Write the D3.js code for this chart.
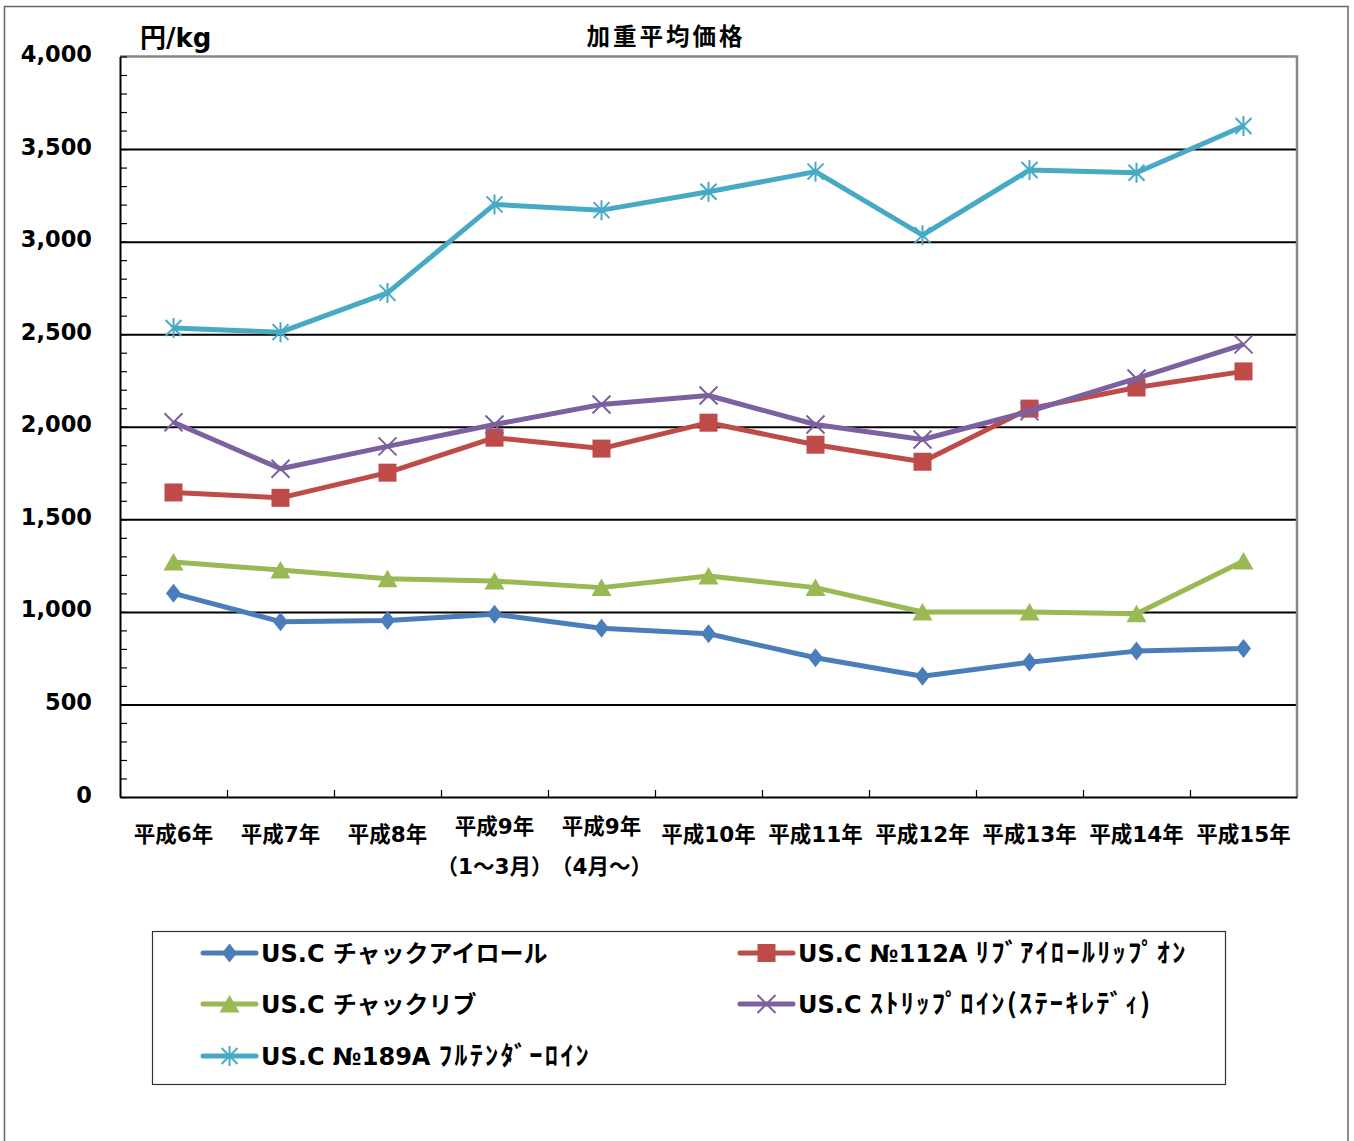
<!DOCTYPE html>
<html><head><meta charset="utf-8">
<script src="https://cdn.jsdelivr.net/npm/d3@7"></script>
<style>body{margin:0;background:#fff;} svg{display:block;}</style>
</head><body>
<script>
const categories = ["平成6年","平成7年","平成8年","平成9年","平成9年","平成10年","平成11年","平成12年","平成13年","平成14年","平成15年"];
const subLabels = ["","","","（1～3月）","（4月～）","","","","","",""];
const yTickValues = [0,500,1000,1500,2000,2500,3000,3500,4000];
const seriesPrefix = ["US.C チャックアイロール","US.C №112A ","US.C チャックリブ","US.C ","US.C №189A "];
const seriesKana   = ["","ﾘﾌﾞｱｲﾛｰﾙﾘｯﾌﾟｵﾝ","","ｽﾄﾘｯﾌﾟﾛｲﾝ(ｽﾃｰｷﾚﾃﾞｨ)","ﾌﾙﾃﾝﾀﾞｰﾛｲﾝ"];
const chuckEyeRoll = [1100, 947, 954, 987, 911, 882, 752, 652, 728, 788, 802];
const ribEyeRoll   = [1645, 1616, 1752, 1941, 1882, 2022, 1903, 1811, 2098, 2212, 2299];
const chuckRib     = [1270, 1226, 1179, 1167, 1131, 1194, 1131, 999, 999, 990, 1275];
const stripLoin    = [2024, 1773, 1894, 2012, 2120, 2169, 2012, 1931, 2083, 2261, 2445];
const fullTender   = [2533, 2511, 2723, 3201, 3170, 3269, 3378, 3035, 3387, 3372, 3625];
const seriesValues = [chuckEyeRoll, ribEyeRoll, chuckRib, stripLoin, fullTender];
const seriesColors = ["#4A7EBB","#BE4B48","#98B954","#7D60A0","#46AAC5"];
const seriesMarkers = ["diamond","square","triangle","cross","asterisk"];

const W = 1354, H = 1141;
const L = 120, R = 1297, T = 56.5, B = 797;
const svg = d3.select("body").append("svg").attr("width", W).attr("height", H);
const latin = "'DejaVu Sans','Noto Sans CJK JP',sans-serif";

// outer frame
svg.append("rect").attr("x",4.5).attr("y",6.5).attr("width",1343.5).attr("height",1145)
  .attr("fill","none").attr("stroke","#666").attr("stroke-width",1.5);

const x = d3.scaleBand().domain(d3.range(categories.length)).range([L, R]);
const xb = d3.scaleLinear().domain([0, categories.length]).range([L, R]);
const y = d3.scaleLinear().domain([0, 4000]).range([B, T]);

// gridlines
svg.append("g").attr("transform",`translate(${L},0)`)
  .call(d3.axisLeft(y).tickValues(yTickValues.filter(v=>v>0 && v<4000)).tickSize(-(R-L)).tickFormat(""))
  .call(g=>g.select(".domain").remove())
  .call(g=>g.selectAll("line").attr("stroke","#000").attr("stroke-width",2));

// plot border top/right grey
svg.append("path").attr("d",`M${L},${y(4000)}H${R}V${B}`).attr("fill","none").attr("stroke","#888").attr("stroke-width",2.5);

// left axis minor ticks (inside)
svg.append("g").attr("transform",`translate(${L},0)`)
  .call(d3.axisLeft(y).tickValues(d3.range(0,4001,100)).tickSizeInner(-7).tickSizeOuter(0).tickFormat(""))
  .call(g=>g.select(".domain").attr("stroke","#000").attr("stroke-width",2))
  .call(g=>g.selectAll("line").attr("stroke","#000").attr("stroke-width",1.2));

// bottom axis
svg.append("g").attr("transform",`translate(0,${B})`)
  .call(d3.axisBottom(xb).tickValues(d3.range(1, categories.length)).tickSizeInner(-7).tickSizeOuter(0).tickFormat(""))
  .call(g=>g.select(".domain").attr("stroke","#000").attr("stroke-width",2))
  .call(g=>g.selectAll("line").attr("stroke","#000").attr("stroke-width",1.2));

// y labels
svg.append("g").selectAll("text").data(yTickValues).join("text")
  .attr("x", 92).attr("y", d=>y(d)+5.5).attr("text-anchor","end")
  .attr("font-family", latin).attr("font-weight","bold").attr("font-size",22.5)
  .text(d=>d3.format(",")(d));

// x labels
const xl = svg.append("g").selectAll("g").data(categories).join("g");
xl.append("text").attr("x",(d,i)=>x(i)+x.bandwidth()/2)
  .attr("y",(d,i)=>subLabels[i] ? 834 : 842).attr("text-anchor","middle")
  .attr("font-family", latin).attr("font-weight","bold").attr("font-size",21.5).text(d=>d);
xl.append("text").attr("x",(d,i)=>x(i)+x.bandwidth()/2)
  .attr("y",874).attr("text-anchor","middle")
  .attr("font-family", latin).attr("font-weight","bold").attr("font-size",21.5).text((d,i)=>subLabels[i]);

// titles
svg.append("text").attr("x",666).attr("y",45).attr("text-anchor","middle")
  .attr("font-family","'Noto Sans CJK JP',sans-serif").attr("font-weight","bold").attr("font-size",23.5)
  .attr("letter-spacing",3).text("加重平均価格");
svg.append("text").attr("x",140).attr("y",47)
  .attr("font-family", latin).attr("font-weight","bold").attr("font-size",26).text("円/kg");

// marker symbol types
const symTypes = {
  diamond:{draw(c){c.moveTo(0,-9.5);c.lineTo(7.5,0);c.lineTo(0,9.5);c.lineTo(-7.5,0);c.closePath();}},
  square:{draw(c){c.rect(-9,-9,18,18);}},
  triangle:{draw(c){c.moveTo(0,-9);c.lineTo(10,8.5);c.lineTo(-10,8.5);c.closePath();}},
  cross:{draw(c){c.moveTo(-9,-9);c.lineTo(9,9);c.moveTo(9,-9);c.lineTo(-9,9);}},
  asterisk:{draw(c){c.moveTo(-8,-8);c.lineTo(8,8);c.moveTo(8,-8);c.lineTo(-8,8);c.moveTo(0,-10);c.lineTo(0,10);}}
};
function drawMarker(sel, type, color){
  const open = (type==="cross"||type==="asterisk");
  sel.attr("d", d3.symbol().type(symTypes[type]))
    .attr("fill", open ? "none" : color)
    .attr("stroke", color).attr("stroke-width", open ? 2 : 0);
}

const line = d3.line().x((d,i)=>x(i)+x.bandwidth()/2).y(d=>y(d));
seriesValues.forEach((vals, s)=>{
  const g = svg.append("g");
  g.append("path").datum(vals).attr("d", line).attr("fill","none")
    .attr("stroke", seriesColors[s]).attr("stroke-width",5).attr("stroke-linejoin","round");
  g.selectAll("path.m").data(vals).join("path").attr("class","m")
    .attr("transform",(d,i)=>`translate(${x(i)+x.bandwidth()/2},${y(d)})`)
    .call(drawMarker, seriesMarkers[s], seriesColors[s]);
});

// legend
svg.append("rect").attr("x",152.5).attr("y",931.5).attr("width",1073).attr("height",153)
  .attr("fill","none").attr("stroke","#333").attr("stroke-width",1.2);
const legPos = [[203,953],[740,953],[203,1004],[740,1004],[203,1056]];
seriesPrefix.forEach((name, s)=>{
  const [lx, ly] = legPos[s];
  const g = svg.append("g");
  g.append("line").attr("x1",lx).attr("x2",lx+53).attr("y1",ly).attr("y2",ly)
    .attr("stroke",seriesColors[s]).attr("stroke-width",5).attr("stroke-linecap","round");
  g.append("path").attr("transform",`translate(${lx+26.5},${ly})`).call(drawMarker, seriesMarkers[s], seriesColors[s]);
  const t = g.append("text").attr("x",lx+58).attr("y",ly+9)
    .attr("font-family", latin).attr("font-weight","bold").attr("font-size",24);
  t.append("tspan").text(name);
  if (seriesKana[s]) {
    t.append("tspan").attr("font-family","'Noto Sans CJK JP',sans-serif")
      .attr("font-size",26.5).attr("letter-spacing",2.2).text(seriesKana[s]);
  }
});
</script>
</body></html>
